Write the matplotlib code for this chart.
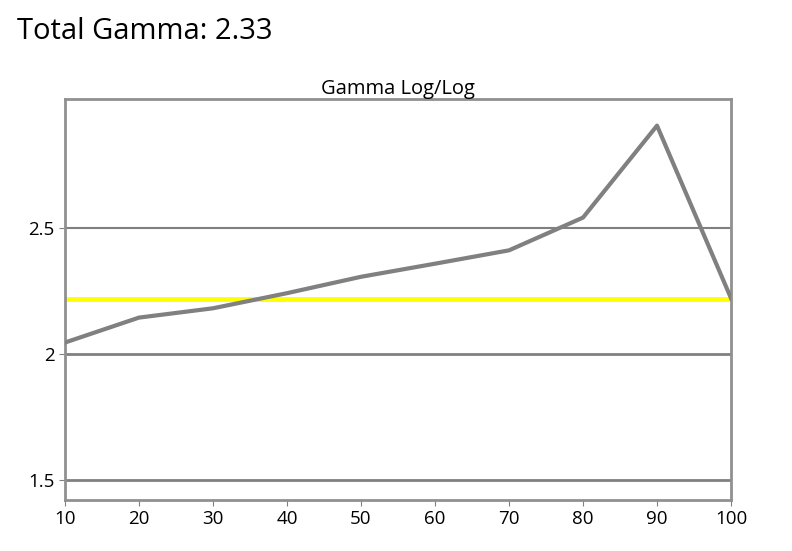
import matplotlib
matplotlib.use("Agg")
import matplotlib.pyplot as plt

plt.rcParams['font.family'] = ['Open Sans', 'DejaVu Sans']

x_levels = [10, 20, 30, 40, 50, 60, 70, 80, 90, 100]
gamma = [2.044, 2.143, 2.18, 2.24, 2.305, 2.357, 2.41, 2.54, 2.905, 2.22]
target_gamma = 2.218
yticks = [1.5, 2, 2.5]
ytick_labels = ["1.5", "2", "2.5"]

fig = plt.figure(figsize=(7.92, 5.51), dpi=100)
ax = fig.add_axes([0.082, 0.093, 0.841, 0.727])
for yv in yticks:
    ax.axhline(yv, color='#808080', lw=2 if yv < 2.5 else 1.5, zorder=1)
ax.axhline(target_gamma, color='#ffff00', lw=3.5, zorder=2)
ax.plot(x_levels, gamma, color='#808080', lw=3, zorder=3)
ax.set_xlim(10, 100)
ax.set_ylim(1.42, 3.01)
ax.set_xticks(x_levels)
ax.set_yticks(yticks)
ax.set_yticklabels(ytick_labels)
ax.tick_params(labelsize=13.5, length=4, color='#808080')
for s in ax.spines.values():
    s.set_color('#909090')
    s.set_linewidth(2)
ax.set_title("Gamma Log/Log", fontsize=14.5, pad=3)
fig.text(0.021, 0.942, "Total Gamma: 2.33", fontsize=21, va='center', ha='left')
fig.savefig("out.png", dpi=100)
